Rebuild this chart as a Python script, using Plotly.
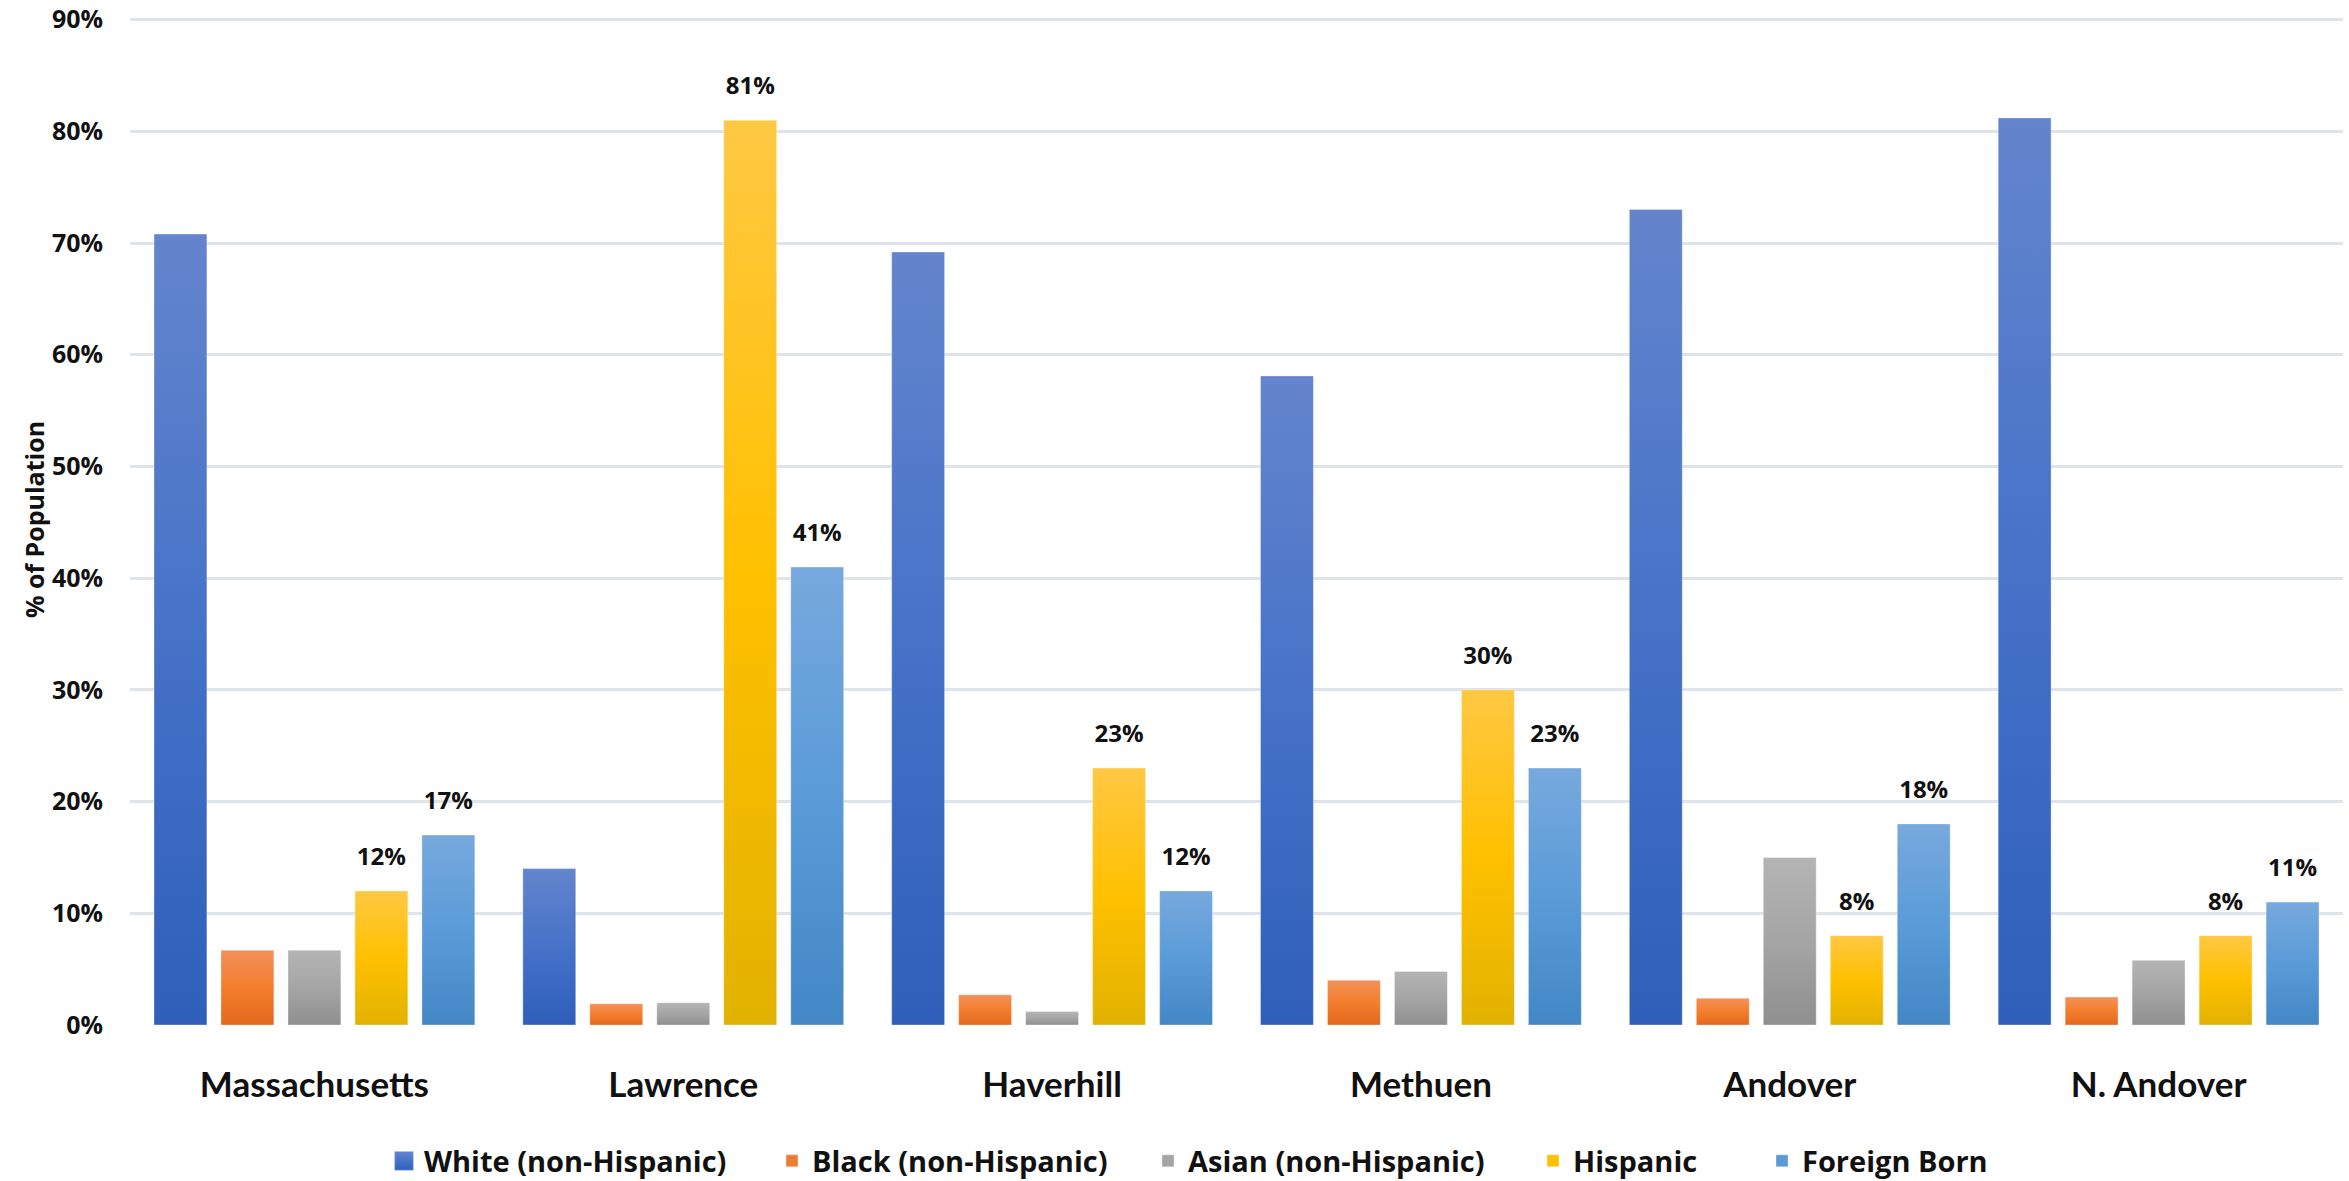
import plotly.graph_objects as go

# Share of population by group, in percent
places = ["Massachusetts", "Lawrence", "Haverhill", "Methuen", "Andover", "N. Andover"]
white = [70.8, 14.0, 69.2, 58.1, 73.0, 81.2]
black = [6.7, 1.9, 2.7, 4.0, 2.4, 2.5]
asian = [6.7, 2.0, 1.2, 4.8, 15.0, 5.8]
hispanic = [12, 81, 23, 30, 8, 8]
foreign_born = [17, 41, 12, 23, 18, 11]

series_names = [
    "White (non-Hispanic)",
    "Black (non-Hispanic)",
    "Asian (non-Hispanic)",
    "Hispanic",
    "Foreign Born",
]
series_values = [white, black, asian, hispanic, foreign_born]
labelled = [False, False, False, True, True]

# base colours plus a top-to-bottom light→dark ramp for each series
base_colors = ["#4472c4", "#ed7d31", "#a5a5a5", "#ffc000", "#5b9bd5"]
ramps = [
    [(0, "#6485cd"), (0.5, "#4672c8"), (1, "#2f5fba")],
    [(0, "#f29159"), (0.5, "#f47e2d"), (1, "#e2681c")],
    [(0, "#b4b4b4"), (0.5, "#a5a5a5"), (1, "#8f8f8f")],
    [(0, "#ffc843"), (0.5, "#ffc000"), (1, "#e2b200")],
    [(0, "#77a9dd"), (0.5, "#5a9bd8"), (1, "#4487c6")],
]

W, H = 2349, 1181
Y_TOP = 90.5
M_L, M_R, M_T, M_B = 130, 6, 14, 156
plot_w = W - M_L - M_R
plot_h = H - M_T - M_B

# left edge of each legend swatch, in pixels
legend_px = [398, 786, 1162, 1547, 1776]

fig = go.Figure()
legend_ids = ["legend", "legend2", "legend3", "legend4", "legend5"]
for i, (name, vals) in enumerate(zip(series_names, series_values)):
    fig.add_trace(
        go.Bar(
            x=places,
            y=vals,
            name=name,
            legend=legend_ids[i],
            marker=dict(color=base_colors[i], line=dict(width=1, color="rgba(255,255,255,0.35)")),
            texttemplate="%{y:.0f}%" if labelled[i] else None,
            textposition="outside" if labelled[i] else "none",
            textfont=dict(family="Open Sans", size=24, color="#111111", weight=700),
            cliponaxis=False,
        )
    )

legend_layout = {}
for i, lid in enumerate(legend_ids):
    legend_layout[lid] = dict(
        x=(legend_px[i] - 14 - M_L) / plot_w,
        xanchor="left",
        y=(plot_h + M_T - 1161) / plot_h,
        yanchor="middle",
        orientation="h",
        bgcolor="rgba(0,0,0,0)",
        font=dict(family="Open Sans", size=29, color="#111111", weight=700),
    )

fig.update_layout(
    width=W,
    height=H,
    margin=dict(l=M_L, r=M_R, t=M_T, b=M_B, pad=0, autoexpand=False),
    paper_bgcolor="white",
    plot_bgcolor="white",
    barmode="group",
    bargap=0.092,
    bargroupgap=0.21,
    font=dict(family="Open Sans", color="#111111"),
    showlegend=True,
    **legend_layout,
)

fig.update_yaxes(
    range=[0, Y_TOP],
    tick0=0,
    dtick=10,
    ticksuffix="%",
    showgrid=True,
    gridcolor="#dfe3ea",
    gridwidth=3,
    zeroline=False,
    showline=False,
    automargin=False,
    ticklabelstandoff=26,
    ticklabeloverflow="allow",
    tickfont=dict(family="Open Sans", size=25, color="#111111", weight=700),
    title=dict(
        text="% of Population",
        font=dict(family="Open Sans", size=25, color="#111111", weight=700),
        standoff=0,
    ),
)
fig.update_xaxes(
    showline=False,
    showgrid=False,
    ticks="",
    automargin=False,
    ticklabelstandoff=36,
    tickfont=dict(family="Lato", size=35, color="#111111", weight=700),
)

ramps_js = "[" + ",".join(
    "[" + ",".join(f"[{o},'{c}']" for o, c in r) + "]" for r in ramps
) + "]"
names_js = "[" + ",".join(f"'{n}'" for n in series_names) + "]"

post_script = """
var gd = document.getElementById('{plot_id}');
var NS = 'http://www.w3.org/2000/svg';
var ramps = RAMPS;
var names = NAMES;
function addDefs() {
  var svg = gd.querySelector('.main-svg');
  var defs = svg.querySelector('defs');
  if (!defs) { defs = document.createElementNS(NS, 'defs'); svg.insertBefore(defs, svg.firstChild); }
  ramps.forEach(function (r, i) {
    if (document.getElementById('ramp' + i)) return;
    var g = document.createElementNS(NS, 'linearGradient');
    g.setAttribute('id', 'ramp' + i);
    g.setAttribute('x1', '0'); g.setAttribute('y1', '0');
    g.setAttribute('x2', '0'); g.setAttribute('y2', '1');
    r.forEach(function (s) {
      var st = document.createElementNS(NS, 'stop');
      st.setAttribute('offset', s[0]);
      st.setAttribute('stop-color', s[1]);
      g.appendChild(st);
    });
    defs.appendChild(g);
  });
}
function shade() {
  addDefs();
  gd.querySelectorAll('.barlayer .trace').forEach(function (tr, i) {
    tr.querySelectorAll('.point path').forEach(function (p) { p.style.fill = 'url(#ramp' + i + ')'; });
    tr.querySelectorAll('.point text').forEach(function (t) {
      if (!t.dataset.lift) {
        t.dataset.lift = '1';
        t.setAttribute('transform', (t.getAttribute('transform') || '') + ' translate(0,-16)');
      }
    });
  });
  gd.querySelectorAll('g.traces').forEach(function (item) {
    var txt = item.querySelector('.legendtext');
    if (!txt) return;
    var i = names.indexOf(txt.textContent);
    if (i < 0) return;
    item.querySelectorAll('.legendpoints path').forEach(function (p) {
      p.style.fill = 'url(#ramp' + i + ')';
      if (!p.dataset.grown) {
        p.dataset.grown = '1';
        p.setAttribute('transform', (p.getAttribute('transform') || '') + ' scale(1.6)');
      }
    });
  });
}
shade();
gd.on('plotly_afterplot', shade);
""".replace("RAMPS", ramps_js).replace("NAMES", names_js)

fig.write_html("out.html", post_script=post_script)
